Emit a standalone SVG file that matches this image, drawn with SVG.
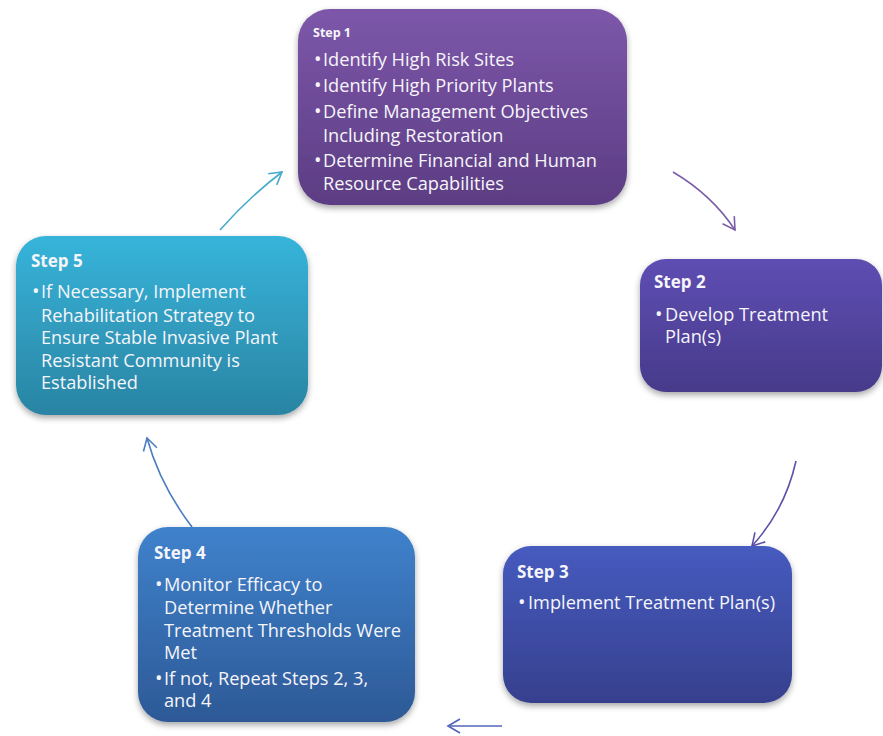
<svg xmlns="http://www.w3.org/2000/svg" width="883" height="736" viewBox="0 0 883 736">
<defs>
<style>
.t{font-family:"Open Sans","Noto Sans","Liberation Sans",sans-serif;font-size:18.2px;fill:#F6F5FA}
.b{font-family:"Open Sans","Noto Sans","Liberation Sans",sans-serif;font-size:20px;fill:#F6F5FA}
.h{font-family:"Open Sans","Noto Sans","Liberation Sans",sans-serif;font-size:17px;font-weight:bold;fill:#F6F5FA}
.box{filter:url(#sh)}
.c{fill:none;stroke-width:1.6}
</style>
<filter id="sh" x="-10%" y="-10%" width="120%" height="125%">
<feDropShadow dx="0" dy="3" stdDeviation="3" flood-color="#000" flood-opacity="0.35"/>
</filter>
<linearGradient id="g1" x1="0" y1="0" x2="0" y2="1"><stop offset="0" stop-color="#7D57AA"/><stop offset="1" stop-color="#5C3D83"/></linearGradient>
<linearGradient id="g2" x1="0" y1="0" x2="0" y2="1"><stop offset="0" stop-color="#5E4EB3"/><stop offset="1" stop-color="#473A8A"/></linearGradient>
<linearGradient id="g3" x1="0" y1="0" x2="0" y2="1"><stop offset="0" stop-color="#465BBF"/><stop offset="1" stop-color="#36408D"/></linearGradient>
<linearGradient id="g4" x1="0" y1="0" x2="0" y2="1"><stop offset="0" stop-color="#3F82CC"/><stop offset="1" stop-color="#2D5996"/></linearGradient>
<linearGradient id="g5" x1="0" y1="0" x2="0" y2="1"><stop offset="0" stop-color="#37B4DA"/><stop offset="1" stop-color="#2A84A3"/></linearGradient>
<marker id="m1" markerUnits="userSpaceOnUse" markerWidth="24" markerHeight="24" refX="14" refY="8" orient="auto"><path d="M2,1 L14,8 L2,15" fill="none" stroke="#7B5EA7" stroke-width="1.6"/></marker>
<marker id="m2" markerUnits="userSpaceOnUse" markerWidth="24" markerHeight="24" refX="14" refY="8" orient="auto"><path d="M2,1 L14,8 L2,15" fill="none" stroke="#5B52AB" stroke-width="1.6"/></marker>
<marker id="m3" markerUnits="userSpaceOnUse" markerWidth="24" markerHeight="24" refX="14" refY="8" orient="auto"><path d="M2,1 L14,8 L2,15" fill="none" stroke="#5064B8" stroke-width="1.6"/></marker>
<marker id="m4" markerUnits="userSpaceOnUse" markerWidth="24" markerHeight="24" refX="14" refY="8" orient="auto"><path d="M2,1 L14,8 L2,15" fill="none" stroke="#4A7EBF" stroke-width="1.6"/></marker>
<marker id="m5" markerUnits="userSpaceOnUse" markerWidth="24" markerHeight="24" refX="14" refY="8" orient="auto"><path d="M2,1 L14,8 L2,15" fill="none" stroke="#45AACB" stroke-width="1.6"/></marker>
</defs>
<rect width="883" height="736" fill="#FFFFFF"/>
<g id="connectors">
<path class="c" d="M673,172 Q712,195 735,230" stroke="#7B5EA7" marker-end="url(#m1)"/>
<path class="c" d="M796,461 Q785,510 752,546" stroke="#5B52AB" marker-end="url(#m2)"/>
<path class="c" d="M502,726 L448,726" stroke="#5064B8" marker-end="url(#m3)"/>
<path class="c" d="M192,527 Q160,485 147,438" stroke="#4A7EBF" marker-end="url(#m4)"/>
<path class="c" d="M220,230 Q248,198 282,172" stroke="#45AACB" marker-end="url(#m5)"/>
</g>
<g id="step1">
<rect class="box" x="298" y="9" width="329" height="196" rx="32" fill="url(#g1)"/>
<text class="h" x="313" y="37" style="font-size:12.5px">Step 1</text>
<text class="b" x="314" y="66">•</text><text class="t" x="323" y="66">Identify High Risk Sites</text>
<text class="b" x="314" y="92">•</text><text class="t" x="323" y="92">Identify High Priority Plants</text>
<text class="b" x="314" y="118">•</text><text class="t" x="323" y="118">Define Management Objectives</text>
<text class="t" x="323" y="142">Including Restoration</text>
<text class="b" x="314" y="167">•</text><text class="t" x="323" y="167">Determine Financial and Human</text>
<text class="t" x="323" y="190">Resource Capabilities</text>
</g>
<g id="step2">
<rect class="box" x="640" y="259" width="242" height="133" rx="26" fill="url(#g2)"/>
<text class="h" x="654" y="288">Step 2</text>
<text class="b" x="655" y="321">•</text><text class="t" x="665" y="321">Develop Treatment</text>
<text class="t" x="665" y="343">Plan(s)</text>
</g>
<g id="step3">
<rect class="box" x="503" y="546" width="289" height="157" rx="28" fill="url(#g3)"/>
<text class="h" x="517" y="578">Step 3</text>
<text class="b" x="518" y="609">•</text><text class="t" x="528" y="609">Implement Treatment Plan(s)</text>
</g>
<g id="step4">
<rect class="box" x="138" y="527" width="277" height="195" rx="30" fill="url(#g4)"/>
<text class="h" x="154" y="559">Step 4</text>
<text class="b" x="155" y="591">•</text><text class="t" x="164" y="591">Monitor Efficacy to</text>
<text class="t" x="164" y="614">Determine Whether</text>
<text class="t" x="164" y="637">Treatment Thresholds Were</text>
<text class="t" x="164" y="659">Met</text>
<text class="b" x="155" y="685">•</text><text class="t" x="164" y="685">If not, Repeat Steps 2, 3,</text>
<text class="t" x="164" y="707">and 4</text>
</g>
<g id="step5">
<rect class="box" x="16" y="236" width="292" height="179" rx="30" fill="url(#g5)"/>
<text class="h" x="31" y="267">Step 5</text>
<text class="b" x="32" y="298">•</text><text class="t" x="41" y="298">If Necessary, Implement</text>
<text class="t" x="41" y="322">Rehabilitation Strategy to</text>
<text class="t" x="41" y="344">Ensure Stable Invasive Plant</text>
<text class="t" x="41" y="367">Resistant Community is</text>
<text class="t" x="41" y="389">Established</text>
</g>
</svg>
